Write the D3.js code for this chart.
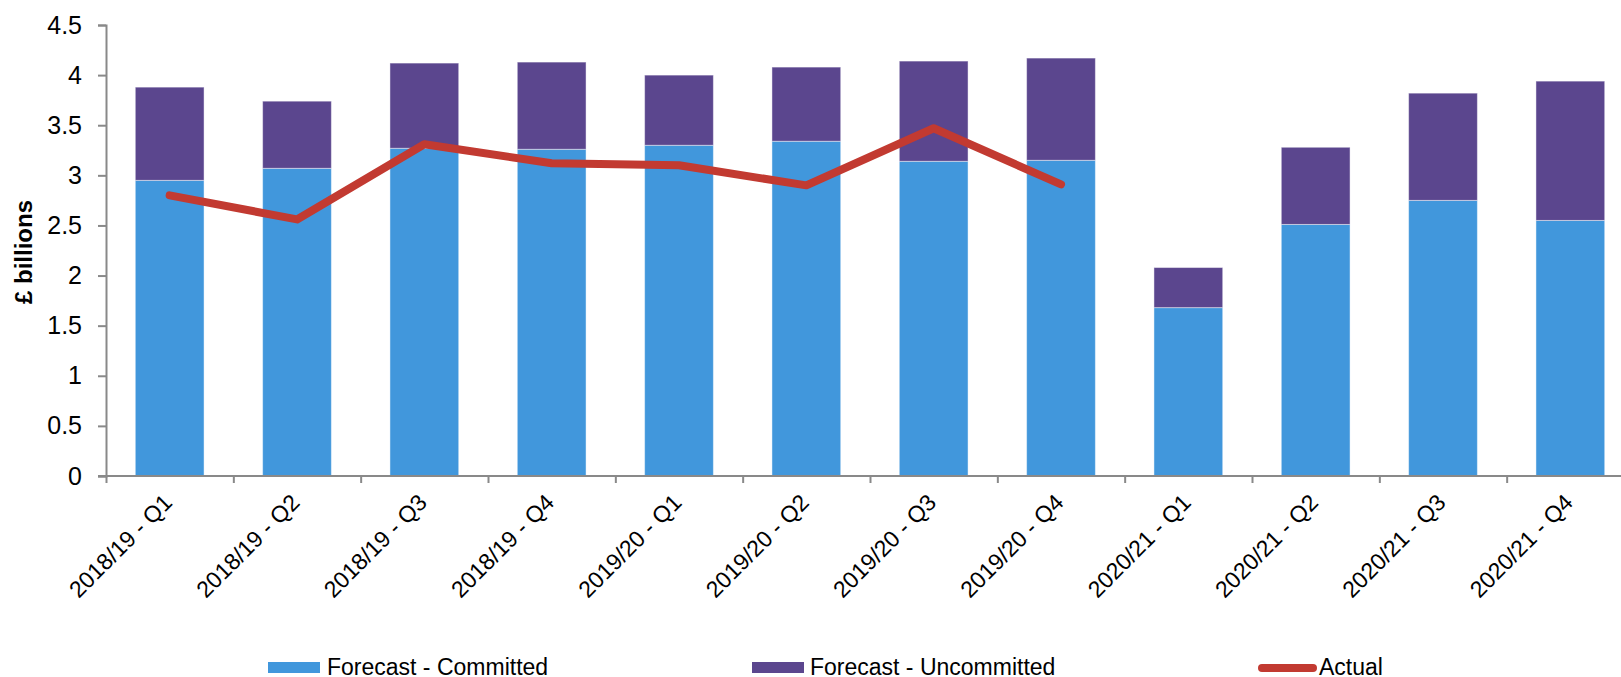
<!DOCTYPE html>
<html>
<head>
<meta charset="utf-8">
<script src="https://cdn.jsdelivr.net/npm/d3@7"></script>
<style>
    body { margin: 0; background: #fff; }
    text { font-family: "Liberation Sans", Arial, sans-serif; fill: #000; }
</style>
</head>
<body>
<div id="chart"></div>
<script>
var categories = [
    "2018/19 - Q1", "2018/19 - Q2", "2018/19 - Q3", "2018/19 - Q4",
    "2019/20 - Q1", "2019/20 - Q2", "2019/20 - Q3", "2019/20 - Q4",
    "2020/21 - Q1", "2020/21 - Q2", "2020/21 - Q3", "2020/21 - Q4"
];
var committed   = [2.95, 3.07, 3.27, 3.26, 3.30, 3.34, 3.14, 3.15, 1.68, 2.51, 2.75, 2.55];
var uncommitted = [0.93, 0.67, 0.85, 0.87, 0.70, 0.74, 1.00, 1.02, 0.40, 0.77, 1.07, 1.39];
var actual      = [2.80, 2.56, 3.31, 3.12, 3.10, 2.90, 3.47, 2.91];
var yTicks = [0, 0.5, 1, 1.5, 2, 2.5, 3, 3.5, 4, 4.5];

var width = 1621, height = 677;
var plotLeft = 106, plotRight = 1634, plotTop = 25, plotBottom = 476;

var blue = "#4197dc", purple = "#5b468e", red = "#c23a31", axisGrey = "#898989";

var svg = d3.select("#chart").append("svg")
    .attr("width", width)
    .attr("height", height);

var x = d3.scaleBand()
    .domain(categories)
    .range([plotLeft, plotRight])
    .paddingInner(0.46)
    .paddingOuter(0.23);

var y = d3.scaleLinear()
    .domain([0, 4.5])
    .range([plotBottom, plotTop]);

// bars
var rows = categories.map(function(c, i) {
    return { cat: c, committed: committed[i], uncommitted: uncommitted[i] };
});

svg.append("g").selectAll("rect")
    .data(rows)
    .enter().append("rect")
    .attr("x", function(d) { return x(d.cat); })
    .attr("y", function(d) { return y(d.committed); })
    .attr("width", x.bandwidth())
    .attr("height", function(d) { return y(0) - y(d.committed); })
    .style("fill", blue)
    .style("stroke", "rgba(255,255,255,0.45)")
    .style("stroke-width", 1);

svg.append("g").selectAll("rect")
    .data(rows)
    .enter().append("rect")
    .attr("x", function(d) { return x(d.cat); })
    .attr("y", function(d) { return y(d.committed + d.uncommitted); })
    .attr("width", x.bandwidth())
    .attr("height", function(d) { return y(d.committed) - y(d.committed + d.uncommitted); })
    .style("fill", purple)
    .style("stroke", "rgba(255,255,255,0.45)")
    .style("stroke-width", 1);

// actual line
var line = d3.line()
    .x(function(d, i) { return x(categories[i]) + x.bandwidth() / 2; })
    .y(function(d) { return y(d); });

svg.append("path")
    .datum(actual)
    .attr("d", line)
    .style("fill", "none")
    .style("stroke", red)
    .style("stroke-width", 8)
    .style("stroke-linecap", "round")
    .style("stroke-linejoin", "round");

// y axis
var yAxis = svg.append("g")
    .attr("transform", "translate(" + plotLeft + ",0)")
    .call(d3.axisLeft(y).tickValues(yTicks).tickSize(8).tickPadding(16)
        .tickFormat(function(d) { return String(d); }));
yAxis.select(".domain").style("stroke", axisGrey).style("stroke-width", 2);
yAxis.selectAll(".tick line").style("stroke", axisGrey).style("stroke-width", 2);
yAxis.selectAll(".tick text")
    .style("font-size", "25px")
    .style("font-family", "'Liberation Sans', Arial, sans-serif")
    .style("fill", "#000");

// x axis with ticks at category boundaries
var step = x.step();
var bounds = d3.range(categories.length + 1).map(function(i) {
    return i < categories.length ? x(categories[i]) - step * x.paddingInner() / 2
        : x(categories[i - 1]) + x.bandwidth() + step * x.paddingInner() / 2;
});
var xb = d3.scaleLinear().domain([0, categories.length]).range([bounds[0], bounds[categories.length]]);
var xAxis = svg.append("g")
    .attr("transform", "translate(0," + plotBottom + ")")
    .call(d3.axisBottom(xb).tickValues(d3.range(categories.length + 1)).tickSize(7).tickFormat(""));
xAxis.select(".domain").attr("d", "M" + (plotLeft - 8) + ",0H" + plotRight).style("stroke", axisGrey).style("stroke-width", 2);
xAxis.selectAll(".tick line").style("stroke", axisGrey).style("stroke-width", 2);

svg.append("g").selectAll("text")
    .data(categories)
    .enter().append("text")
    .attr("transform", function(d) {
        return "translate(" + (x(d) + x.bandwidth() / 2 + 4) + "," + 504 + ") rotate(-45)";
    })
    .attr("text-anchor", "end")
    .style("font-size", "23px")
    .text(function(d) { return d; });

// y title
svg.append("text")
    .attr("transform", "translate(32,252) rotate(-90)")
    .attr("text-anchor", "middle")
    .style("font-size", "24px")
    .style("font-weight", "bold")
    .text("£ billions");

// legend
var legend = svg.append("g");
legend.append("rect").attr("x", 268).attr("y", 662).attr("width", 52).attr("height", 11).style("fill", blue);
legend.append("text").attr("x", 327).attr("y", 675).style("font-size", "23px").text("Forecast - Committed");
legend.append("rect").attr("x", 752).attr("y", 662).attr("width", 52).attr("height", 11).style("fill", purple);
legend.append("text").attr("x", 810).attr("y", 675).style("font-size", "23px").text("Forecast - Uncommitted");
legend.append("line").attr("x1", 1262).attr("x2", 1313).attr("y1", 668).attr("y2", 668)
    .style("stroke", red).style("stroke-width", 8).style("stroke-linecap", "round");
legend.append("text").attr("x", 1319).attr("y", 675).style("font-size", "23px").text("Actual");
</script>
</body>
</html>
